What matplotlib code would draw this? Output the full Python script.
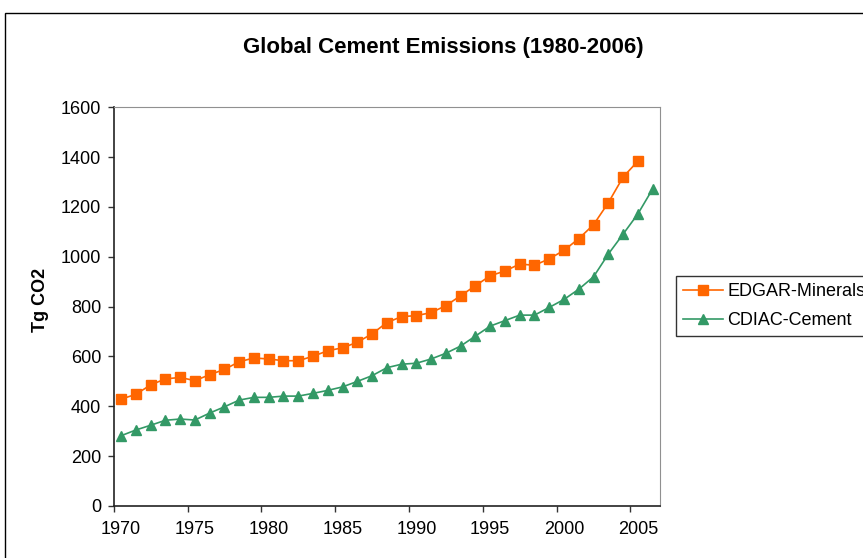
import numpy as np
import matplotlib
matplotlib.use("Agg")
import matplotlib.pyplot as plt
from matplotlib.patches import Rectangle

plt.rcParams['font.family'] = ['Liberation Sans', 'DejaVu Sans']

# data (Tg CO2)
edgar_years = list(range(1970, 2006))
edgar_minerals = [429, 448, 486, 510, 516, 503, 527, 548, 579, 594,
                  590, 583, 583, 601, 623, 635, 657, 691, 736, 760,
                  764, 776, 804, 844, 884, 924, 943, 971, 966, 992,
                  1026, 1073, 1129, 1217, 1320, 1384]
cdiac_years = list(range(1970, 2007))
cdiac_cement = [282, 305, 324, 344, 349, 345, 373, 398, 425, 436,
                436, 441, 441, 452, 464, 478, 500, 523, 555, 569,
                573, 590, 613, 642, 682, 722, 744, 766, 766, 797,
                829, 870, 920, 1011, 1091, 1172, 1272]
label_years = list(range(1970, 2006, 5))

W, H = 863, 558
fig = plt.figure(figsize=(W / 100, H / 100), dpi=100)
ax = fig.add_axes([113.7 / W, 1 - 506 / H, (660 - 113.7) / W, (506 - 107.3) / H])

# chart area border
fig.patches.append(Rectangle((5 / W, -0.1), 1.2, 1.1 - 13.5 / H, transform=fig.transFigure,
                             fill=False, edgecolor='black', linewidth=1.0))

ax.plot(edgar_years, edgar_minerals, color='#FF6600', marker='s', markersize=6.7,
        linewidth=1.2, label='EDGAR-Minerals')
ax.plot(cdiac_years, cdiac_cement, color='#339966', marker='^', markersize=7.5,
        linewidth=1.2, label='CDIAC-Cement')

ax.set_xlim(1969.5, 2006.5)
ax.set_ylim(0, 1600)
ax.set_yticks(np.arange(0, 1601, 200))
# category axis: ticks between categories, labels on them
ax.set_xticks([y - 0.5 for y in label_years])
ax.set_xticklabels([])
ax.set_xticks(label_years, minor=True)
ax.set_xticklabels([str(y) for y in label_years], minor=True)
ax.tick_params(axis='x', which='major', direction='out', length=4, width=1, color='#333333')
ax.tick_params(axis='x', which='minor', length=0, pad=11, labelsize=13)
ax.tick_params(axis='y', direction='out', length=4, width=1, pad=5, labelsize=13, color='#333333')

for s in ['top', 'right']:
    ax.spines[s].set_color('#909090')
for s in ['left', 'bottom']:
    ax.spines[s].set_color('#222222')
    ax.spines[s].set_linewidth(1.2)

fig.text(443 / W, 1 - 47 / H, 'Global Cement Emissions (1980-2006)', ha='center', va='center',
         fontsize=16, fontweight='bold')
fig.text(40 / W, 1 - 300 / H, 'Tg CO2', rotation=90, ha='center', va='center',
         fontsize=13, fontweight='bold')

leg = fig.legend(loc='upper left', bbox_to_anchor=(676 / W, 1 - 276 / H), borderaxespad=0,
                 fancybox=False, edgecolor='black', fontsize=13, handlelength=2.2,
                 borderpad=0.4, labelspacing=0.65, handletextpad=0.25)
leg.get_frame().set_linewidth(1.0)

fig.savefig('out.png', dpi=100)
